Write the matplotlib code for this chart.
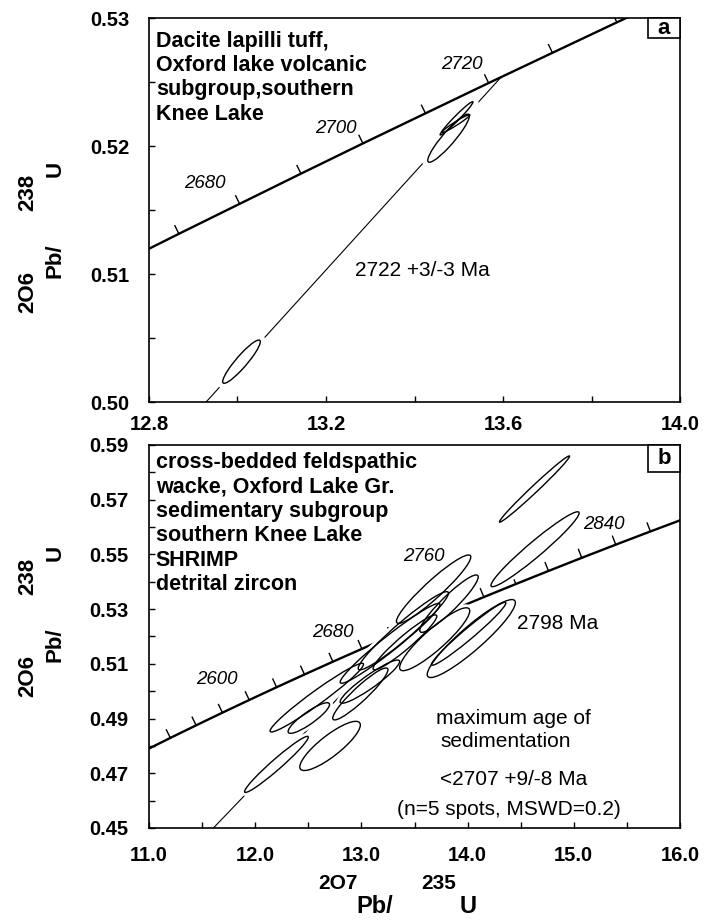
import numpy as np
import matplotlib
matplotlib.use("Agg")
import matplotlib.pyplot as plt
from matplotlib.patches import Ellipse, Rectangle
from matplotlib.transforms import Affine2D, IdentityTransform
from matplotlib.lines import Line2D

plt.rcParams['font.family'] = ['Liberation Sans', 'DejaVu Sans']

# ---------------- data: panel a ----------------
conc_a_age = [2660, 2670, 2680, 2690, 2700, 2710, 2720, 2730, 2740, 2750]
conc_a_x = [12.7316, 12.8675, 13.0048, 13.1434, 13.2834, 13.4247, 13.5675, 13.7117, 13.8573, 14.0043]
conc_a_y = [0.51079, 0.51314, 0.51548, 0.51784, 0.52020, 0.52255, 0.52492, 0.52728, 0.52966, 0.53203]
conc_a_tick_ages = [2670, 2680, 2690, 2700, 2710, 2720, 2730, 2740]
conc_a_lab_text = ["2680", "2700", "2720"]
conc_a_lab_x = [12.927, 13.223, 13.506]
conc_a_lab_y = [0.5171, 0.52138, 0.52633]

ell_a_cx = [13.009, 13.477, 13.495, 13.4935]
ell_a_cy = [0.50315, 0.52061, 0.52216, 0.52175]
ell_a_sx = [0.0425, 0.047, 0.037, 0.0315]
ell_a_sy = [0.00169, 0.00188, 0.0013, 0.0007]
ell_a_rho = [0.92, 0.92, 0.977, 0.97]

disc_a_x = [12.929, 13.596]
disc_a_y = [0.500, 0.52539]

title_a = ["Dacite lapilli tuff,", "Oxford lake volcanic", "subgroup,southern", "Knee Lake"]
age_a_text = "2722 +3/-3 Ma"
age_a_pos = (13.417, 0.5103)

xa_ticks = [12.8, 13.0, 13.2, 13.4, 13.6, 13.8, 14.0]
xa_labels = ["12.8", "", "13.2", "", "13.6", "", "14.0"]
ya_ticks = [0.500, 0.505, 0.510, 0.515, 0.520, 0.525, 0.530]
ya_labels = ["0.50", "", "0.51", "", "0.52", "", "0.53"]

# ---------------- data: panel b ----------------
conc_b_age = [2520, 2540, 2560, 2580, 2600, 2620, 2640, 2660, 2680, 2700, 2720, 2740,
              2760, 2780, 2800, 2820, 2840, 2860, 2880]
conc_b_x = [10.9630, 11.2010, 11.4437, 11.6913, 11.9437, 12.2012, 12.4638, 12.7316, 13.0048,
            13.2834, 13.5675, 13.8573, 14.1528, 14.4542, 14.7616, 15.0752, 15.3950, 15.7211, 16.0537]
conc_b_y = [0.47833, 0.48293, 0.48753, 0.49216, 0.49679, 0.50145, 0.50611, 0.51079, 0.51548,
            0.52020, 0.52492, 0.52966, 0.53441, 0.53918, 0.54396, 0.54876, 0.55357, 0.55840, 0.56324]
conc_b_tick_ages = [2540, 2560, 2580, 2600, 2620, 2640, 2660, 2680, 2700, 2720, 2740,
                    2760, 2780, 2800, 2820, 2840, 2860]
conc_b_lab_text = ["2600", "2680", "2760", "2840"]
conc_b_lab_x = [11.642, 12.735, 13.592, 15.284]
conc_b_lab_y = [0.5041, 0.5214, 0.5492, 0.5608]

ell_b_cx = [14.63, 14.635, 13.68, 13.825, 14.035, 14.01, 13.69, 13.395, 13.27, 13.41,
            13.08, 12.99, 12.58, 12.505, 12.705, 12.20]
ell_b_cy = [0.5739, 0.5519, 0.5373, 0.532, 0.51925, 0.521, 0.519, 0.5221, 0.5175, 0.51785,
            0.5035, 0.499, 0.49765, 0.4902, 0.480, 0.47325]
ell_b_sx = [0.33, 0.415, 0.35, 0.275, 0.415, 0.35, 0.33, 0.425, 0.47, 0.30,
            0.28, 0.26, 0.44, 0.195, 0.285, 0.30]
ell_b_sy = [0.0121, 0.0137, 0.0125, 0.0105, 0.01425, 0.0115, 0.0115, 0.0143, 0.0146, 0.01005,
            0.0079, 0.0095, 0.01255, 0.0056, 0.009, 0.01025]
ell_b_rho = [0.99, 0.965, 0.94, 0.93, 0.92, 0.975, 0.90, 0.96, 0.97, 0.95,
             0.93, 0.93, 0.97, 0.88, 0.85, 0.97]

disc_b_x = [11.55, 13.382]
disc_b_y = [0.44773, 0.52185]

title_b = ["cross-bedded feldspathic", "wacke, Oxford Lake Gr.", "sedimentary subgroup",
           "southern Knee Lake", "SHRIMP", "detrital zircon"]
age_b_text = "2798 Ma"
age_b_pos = (14.465, 0.5247)
note_b_text = ["maximum age of", "sedimentation", "<2707 +9/-8 Ma", "(n=5 spots, MSWD=0.2)"]
note_b_x = [14.43, 14.36, 14.43, 14.39]
note_b_y = [0.4902, 0.4816, 0.4676, 0.4566]

xb_ticks = [11.0, 11.5, 12.0, 12.5, 13.0, 13.5, 14.0, 14.5, 15.0, 15.5, 16.0]
xb_labels = ["11.0", "", "12.0", "", "13.0", "", "14.0", "", "15.0", "", "16.0"]
yb_ticks = [0.45, 0.46, 0.47, 0.48, 0.49, 0.50, 0.51, 0.52, 0.53, 0.54, 0.55, 0.56, 0.57, 0.58, 0.59]
yb_labels = ["0.45", "", "0.47", "", "0.49", "", "0.51", "", "0.53", "", "0.55", "", "0.57", "", "0.59"]

# ---------------- figure ----------------
W, H = 704, 921
fig = plt.figure(figsize=(W / 100, H / 100), dpi=100)
ax_a = fig.add_axes([149 / W, 1 - 402 / H, 531 / W, 384 / H])
ax_b = fig.add_axes([149 / W, 1 - 828 / H, 531 / W, 383 / H])

TICKFONT = dict(fontsize=14.5, fontweight='bold')


def setup_axes(ax, xlim, ylim, xt, xl, yt, yl, xpad, ypad):
    ax.set_xlim(*xlim)
    ax.set_ylim(*ylim)
    ax.set_xticks(xt)
    ax.set_xticklabels(xl, **TICKFONT)
    ax.set_yticks(yt)
    ax.set_yticklabels(yl, **TICKFONT)
    ax.tick_params(axis='both', direction='in', length=4, width=1.0, color='black')
    ax.tick_params(axis='x', pad=xpad)
    ax.tick_params(axis='y', pad=ypad)
    for s in ax.spines.values():
        s.set_linewidth(1.2)


setup_axes(ax_a, (12.8, 14.0), (0.50, 0.53), xa_ticks, xa_labels, ya_ticks, ya_labels, 9.5, 14)
setup_axes(ax_b, (11.0, 16.0), (0.45, 0.59), xb_ticks, xb_labels, yb_ticks, yb_labels, 13, 15)


def draw_concordia(ax, ages, xs, ys, tick_ages, lab_text, lab_x, lab_y, tick_len=9):
    ax.plot(xs, ys, color='black', lw=1.7, zorder=2, solid_capstyle='butt')
    pts = ax.transData.transform(np.column_stack([xs, ys]))
    for ta in tick_ages:
        i = ages.index(ta)
        j0, j1 = max(i - 1, 0), min(i + 1, len(ages) - 1)
        d = pts[j1] - pts[j0]
        d = d / np.hypot(*d)
        n = np.array([-d[1], d[0]])
        p = pts[i]
        ln = Line2D([p[0], p[0] + n[0] * tick_len], [p[1], p[1] + n[1] * tick_len],
                    transform=IdentityTransform(), color='black', lw=1.0, zorder=2)
        ax.add_line(ln)
    for t, x, y in zip(lab_text, lab_x, lab_y):
        ax.text(x, y, t, fontsize=13.5, style='italic', ha='center', va='center', zorder=5)


def draw_ellipses(ax, cx, cy, sx, sy, rho, halo_lw):
    for x0, y0, a, b, r in zip(cx, cy, sx, sy, rho):
        m = np.array([[a, 0.0, x0], [b * r, b * np.sqrt(1 - r * r), y0], [0, 0, 1]])
        tr = Affine2D(m) + ax.transData
        ax.add_patch(Ellipse((0, 0), 2, 2, transform=tr, facecolor='white',
                             edgecolor='white', lw=halo_lw, zorder=3))
        ax.add_patch(Ellipse((0, 0), 2, 2, transform=tr, facecolor='none',
                             edgecolor='black', lw=1.0, zorder=4))


# panel a
draw_concordia(ax_a, conc_a_age, conc_a_x, conc_a_y, conc_a_tick_ages,
               conc_a_lab_text, conc_a_lab_x, conc_a_lab_y)
ax_a.plot(disc_a_x, disc_a_y, color='black', lw=0.8, zorder=2)
draw_ellipses(ax_a, ell_a_cx, ell_a_cy, ell_a_sx, ell_a_sy, ell_a_rho, 8)
ax_a.text(age_a_pos[0], age_a_pos[1], age_a_text, fontsize=15, ha='center', va='center', zorder=5)

# panel b
draw_concordia(ax_b, conc_b_age, conc_b_x, conc_b_y, conc_b_tick_ages,
               conc_b_lab_text, conc_b_lab_x, conc_b_lab_y)
ax_b.plot(disc_b_x, disc_b_y, color='black', lw=0.8, zorder=2)
draw_ellipses(ax_b, ell_b_cx, ell_b_cy, ell_b_sx, ell_b_sy, ell_b_rho, 5)
ax_b.text(age_b_pos[0], age_b_pos[1], age_b_text, fontsize=15, ha='left', va='center', zorder=5)
for t, x, y in zip(note_b_text, note_b_x, note_b_y):
    ax_b.text(x, y, t, fontsize=15, ha='center', va='center', zorder=5)


def draw_title(ax, lines, first, step):
    for k, s in enumerate(lines):
        ax.text(0.0128, first - k * step, s, transform=ax.transAxes, fontsize=15.5,
                fontweight='bold', ha='left', va='baseline', zorder=6)


draw_title(ax_a, title_a, 0.9253, 24.4 / 384)
draw_title(ax_b, title_b, 0.9392, 24.4 / 383)


def panel_letter(ax, letter, y0):
    ax.add_patch(Rectangle((0.9397, y0), 1 - 0.9397, 1 - y0, transform=ax.transAxes,
                           facecolor='white', edgecolor='black', lw=1.2, zorder=6, clip_on=False))
    ax.text((1 + 0.9397) / 2, (1 + y0) / 2, letter, transform=ax.transAxes, fontsize=16,
            fontweight='bold', ha='center', va='center', zorder=7)


panel_letter(ax_a, "a", 0.947)
panel_letter(ax_b, "b", 0.930)


# axis labels (isotope ratio labels)
def ylab(ypix_shift):
    items = [("2O6", 28, 292), ("238", 28, 192), ("Pb/", 55, 261), ("U", 55, 169)]
    for s, xp, yp in items:
        fig.text(xp / W, 1 - (yp + ypix_shift) / H, s, rotation=90, fontsize=16,
                 fontweight='bold', ha='center', va='center')


ylab(0)
ylab(455 - 71)

fig.text(337.5 / W, 1 - 889 / H, "2O7", fontsize=15, fontweight='bold', ha='center', va='baseline')
fig.text(439 / W, 1 - 889 / H, "235", fontsize=15, fontweight='bold', ha='center', va='baseline')
fig.text(375 / W, 1 - 913 / H, "Pb/", fontsize=17, fontweight='bold', ha='center', va='baseline')
fig.text(468 / W, 1 - 913 / H, "U", fontsize=17, fontweight='bold', ha='center', va='baseline')

fig.savefig("out.png", dpi=100)
